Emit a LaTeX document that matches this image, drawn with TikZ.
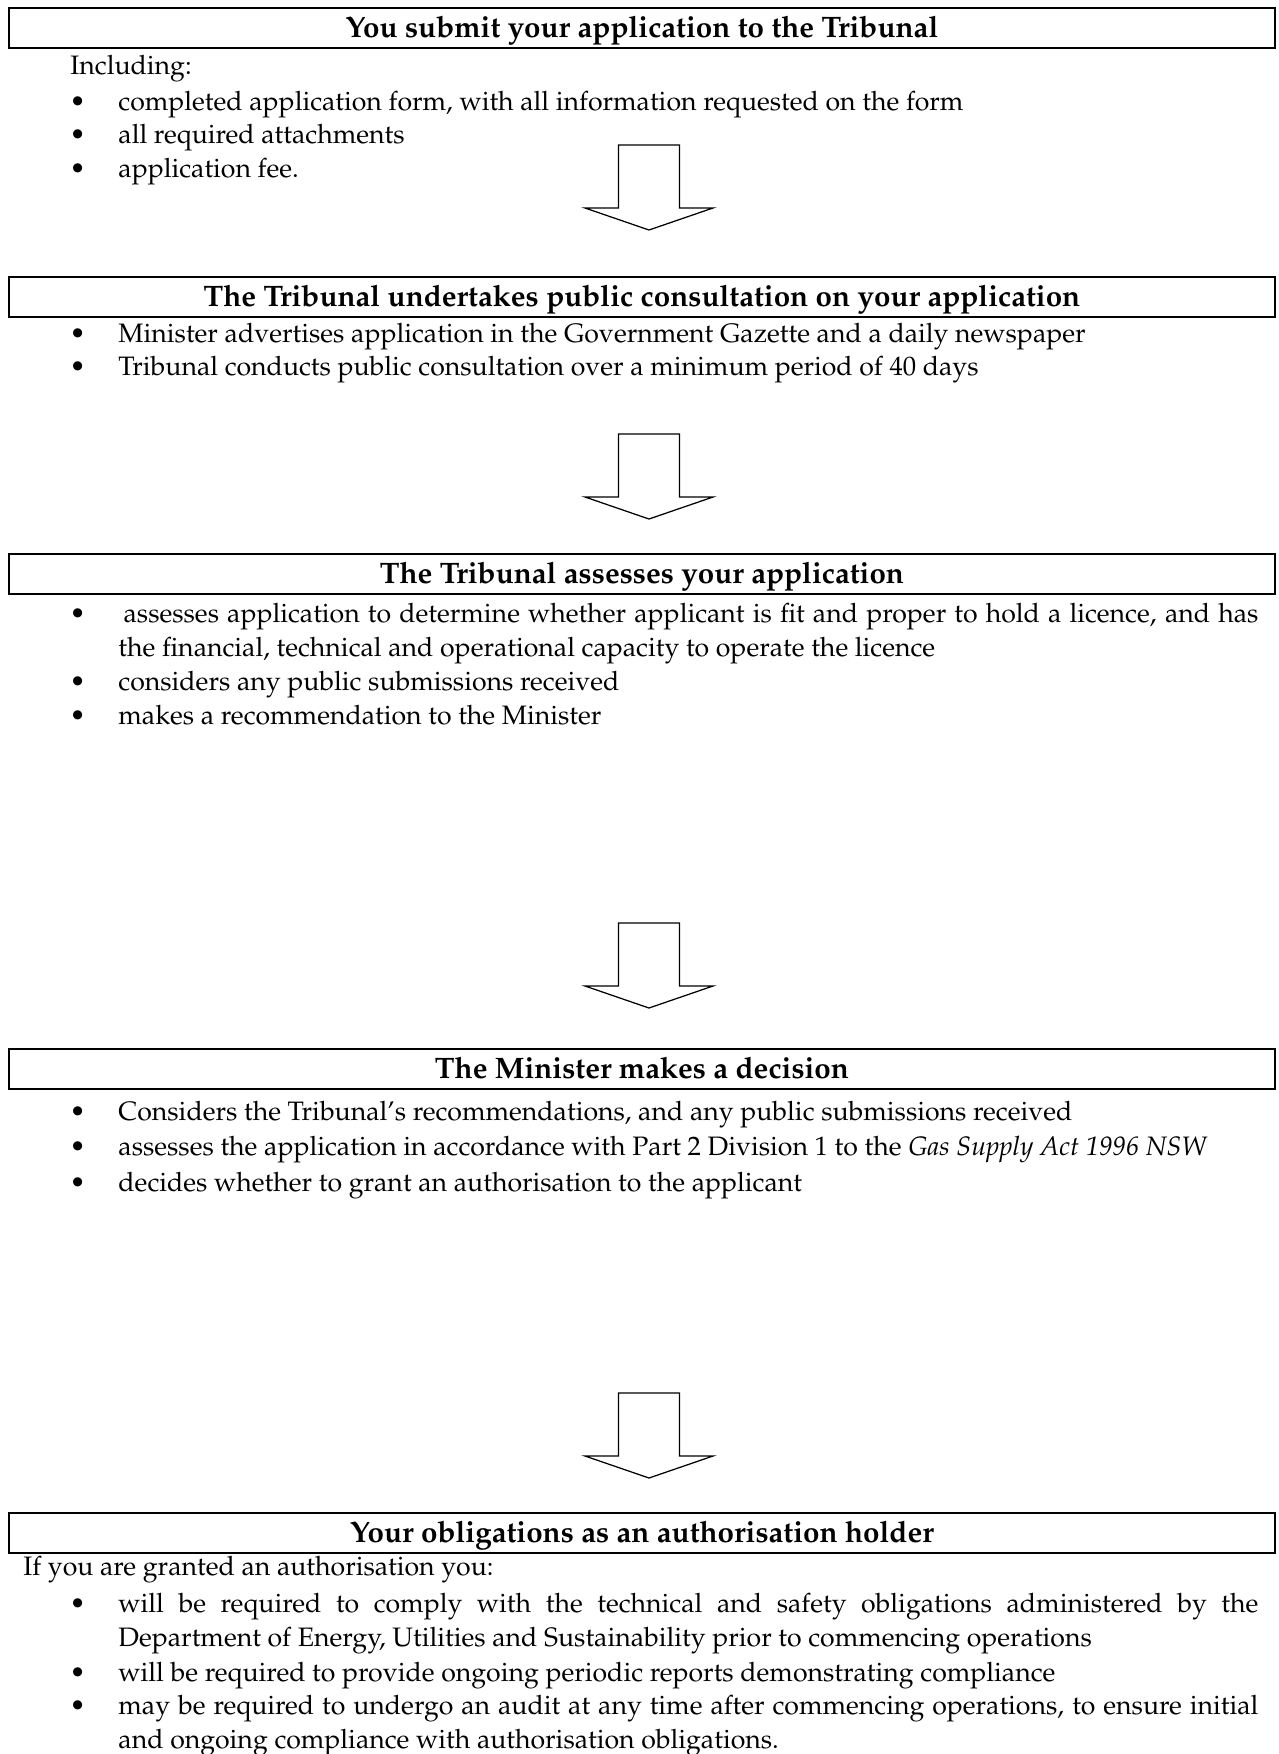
\documentclass[tikz,border=0pt]{standalone}
\usepackage[T1]{fontenc}
\usepackage{mathpazo}
\usepackage{tikz}

\tikzset{
  stage/.style={draw, line width=1.4pt, minimum width=607.7pt, minimum height=19.2pt,
    inner sep=0pt, text height=12pt, text depth=2.5pt, font=\fontsize{14.2}{16}\selectfont\bfseries},
  entry/.style={anchor=base west, inner sep=0pt, font=\fontsize{12.8}{16.4}\selectfont},
  lead/.style={anchor=base west, inner sep=0pt, font=\fontsize{12.8}{16.4}\selectfont},
  blockarrow/.style={draw, line width=0.6pt, fill=white, line join=miter}
}

% bullet, then the item text as a justified block
\newcommand{\blt}[1]{\makebox[22.1pt][l]{\makebox[5pt]{\textbullet}}\parbox[t]{547.2pt}{#1}}

% hollow down arrow hanging from a coordinate
\newcommand{\flowArrow}[1]{
    \draw[blockarrow, shift={(#1)}] (-30.5,0) -- (30.5,0) -- (30.5,63) -- (64,63)
      -- (0,85) -- (-64,63) -- (-30.5,63) -- cycle;
}

\begin{document}
\begin{tikzpicture}[x=0.48pt, y=-0.48pt]
  \useasboundingbox (0,0) rectangle (1279,1754);

  % Stage 1
  \node[stage] (submit) at (642,28) {You submit your application to the Tribunal};
  \node[lead] (incl) at (70,74) {Including:};
  \node[entry] (s1a) at (72,110) {\blt{completed application form, with all information requested on the form}};
  \node[entry] (s1b) at (72,143) {\blt{all required attachments}};
  \node[entry] (s1c) at (72,177) {\blt{application fee.}};
  \coordinate (arr1) at (649,145);
  \flowArrow{arr1}

  % Stage 2
  \node[stage] (consult) at (642,297) {The Tribunal undertakes public consultation on your application};
  \node[entry] (s2a) at (72,342) {\blt{Minister advertises application in the Government Gazette and a daily newspaper}};
  \node[entry] (s2b) at (72,375) {\blt{Tribunal conducts public consultation over a minimum period of 40 days}};
  \coordinate (arr2) at (649,434);
  \flowArrow{arr2}

  % Stage 3
  \node[stage] (assess) at (642,574) {The Tribunal assesses your application};
  \node[entry] (s3a) at (72,622) {\blt{\hspace{2.5pt}assesses application to determine whether applicant is fit and proper to hold a licence, and has\linebreak the financial, technical and operational capacity to operate the licence}};
  \node[entry] (s3b) at (72,690) {\blt{considers any public submissions received}};
  \node[entry] (s3c) at (72,724) {\blt{makes a recommendation to the Minister}};
  \coordinate (arr3) at (649,923);
  \flowArrow{arr3}

  % Stage 4
  \node[stage] (decide) at (642,1069) {The Minister makes a decision};
  \node[entry] (s4a) at (72,1120) {\blt{Considers the Tribunal's recommendations, and any public submissions received}};
  \node[entry] (s4b) at (72,1155) {\blt{assesses the application in accordance with Part 2 Division 1 to the \textit{Gas Supply Act 1996 NSW}}};
  \node[entry] (s4c) at (72,1191) {\blt{decides whether to grant an authorisation to the applicant}};
  \coordinate (arr4) at (649,1393);
  \flowArrow{arr4}

  % Stage 5
  \node[stage] (oblig) at (642,1533) {Your obligations as an authorisation holder};
  \node[lead] (ifgr) at (23,1575) {If you are granted an authorisation you:};
  \node[entry] (s5a) at (72,1612) {\blt{will be required to comply with the technical and safety obligations administered by the\linebreak Department of Energy, Utilities and Sustainability prior to commencing operations}};
  \node[entry] (s5b) at (72,1681) {\blt{will be required to provide ongoing periodic reports demonstrating compliance}};
  \node[entry] (s5c) at (72,1714) {\blt{may be required to undergo an audit at any time after commencing operations, to ensure initial\linebreak and ongoing compliance with authorisation obligations.}};
\end{tikzpicture}
\end{document}
